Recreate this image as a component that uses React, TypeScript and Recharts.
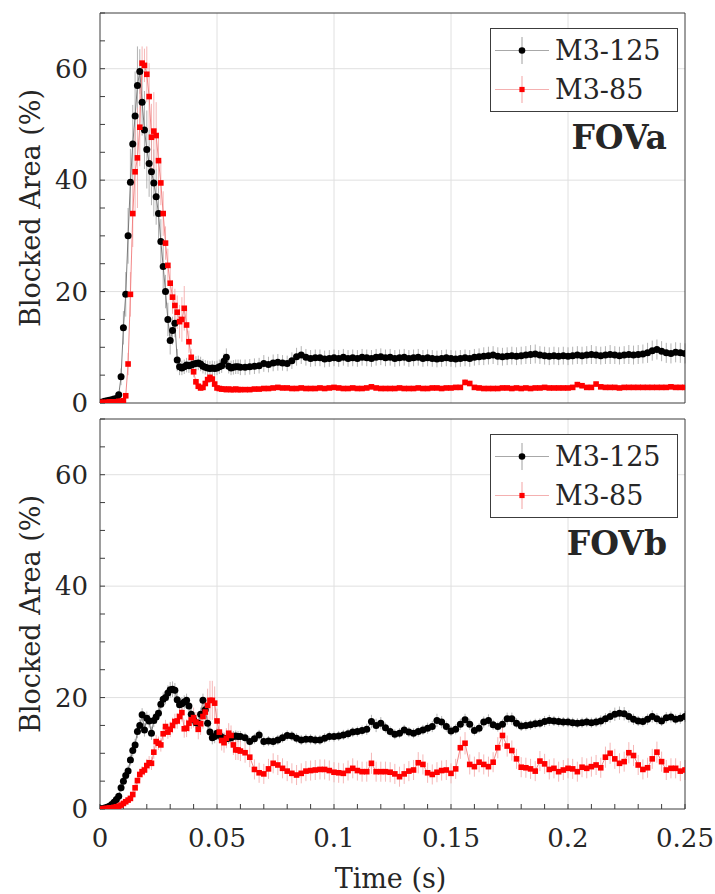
import React from "react"
import { LineChart, Line, XAxis, YAxis, ErrorBar, ReferenceLine, Legend } from "recharts"

const FONT = "'DejaVu Serif', serif"
const TEXT = "#262626"
const AXIS = "#3c3c3c"
const GRID = "#e0e0e0"

// time grid: 1 ms steps up to 60 ms, 2 ms after that
const T_FINE = Array.from({ length: 61 }, (_, i) => i / 1000)
const T_COARSE = Array.from({ length: 95 }, (_, i) => (62 + 2 * i) / 1000)
const TIME = [...T_FINE, ...T_COARSE]

const X_TICKS = [
  0, 0.01, 0.02, 0.03, 0.04, 0.05, 0.06, 0.07, 0.08, 0.09, 0.1, 0.11, 0.12, 0.13,
  0.14, 0.15, 0.16, 0.17, 0.18, 0.19, 0.2, 0.21, 0.22, 0.23, 0.24, 0.25,
]
const X_LABELS = [0, 0.05, 0.1, 0.15, 0.2, 0.25]
const Y_TICKS = [0, 5, 10, 15, 20, 25, 30, 35, 40, 45, 50, 55, 60, 65, 70]
const Y_LABELS = [0, 20, 40, 60]
const GRID_X = [0.05, 0.1, 0.15, 0.2]
const GRID_Y = [20, 40, 60]

// FOVa, M3-125
const A125_FINE = [
  0.1, 0.2, 0.3, 0.4, 0.5, 0.6, 0.7, 0.8, 1.5, 4.7,
  13.5, 19.5, 30, 39.6, 46.5, 51.5, 57, 59.5, 54, 49,
  45.5, 43, 41.5, 39.5, 37, 34, 29, 24.5, 20, 15,
  11.2, 13, 14.3, 7.7, 6.5, 6.3, 6.5, 6.8, 6.7, 6.8,
  7, 7.1, 7.2, 7, 6.6, 6.4, 6.3, 6.2, 6.3, 6.2,
  6.3, 6.5, 6.7, 7.5, 8.2, 6.6, 6.3, 6.4, 6.5, 6.5,
  6.4,
]
const A125_COARSE = [
  6.4, 6.5, 6.6, 6.7, 7.1, 6.9, 7.2, 7.3, 7.2, 7.1,
  7.6, 8.3, 8.6, 8.2, 8.0, 8.1, 8.1, 7.9, 8.0, 8.1,
  8.0, 8.2, 8.0, 8.1, 8.0, 8.2, 8.1, 8.0, 8.2, 8.3,
  8.1, 8.2, 8.0, 8.1, 8.2, 8.0, 8.1, 8.2, 8.0, 8.1,
  8.0, 7.9, 8.0, 8.1, 8.0, 7.9, 8.0, 8.1, 8.0, 8.2,
  8.3, 8.4, 8.5, 8.6, 8.4, 8.3, 8.4, 8.5, 8.4, 8.5,
  8.6, 8.7, 8.8, 8.6, 8.5, 8.4, 8.5, 8.4, 8.5, 8.4,
  8.5, 8.6, 8.5, 8.6, 8.7, 8.6, 8.5, 8.6, 8.7, 8.6,
  8.5, 8.6, 8.7, 8.6, 8.7, 8.8, 9.0, 9.4, 9.6, 9.3,
  9.0, 8.9, 9.1, 9.0, 8.9,
]
const A125_ERR_FINE = [
  0.1, 0.1, 0.1, 0.1, 0.1, 0.1, 0.1, 0.2, 0.5, 1.5,
  3, 4, 5, 6, 7, 8, 7, 4, 6, 7,
  7, 6, 6, 6, 5, 5, 4, 4, 3, 3,
  2.5, 2.5, 2.5, 2, 1.5, 1.3, 1.3, 1.3, 1.3, 1.3,
  1.3, 1.3, 1.3, 1.3, 1.3, 1.3, 1.3, 1.3, 1.3, 1.3,
  1.3, 1.3, 1.3, 1.4, 1.6, 1.3, 1.3, 1.3, 1.3, 1.3,
  1.4,
]
const A125_ERR_COARSE = [
  1.4, 1.4, 1.4, 1.4, 1.5, 1.4, 1.5, 1.5, 1.4, 1.4,
  1.5, 1.6, 1.6, 1.5, 1.5, 1.5, 1.5, 1.5, 1.5, 1.5,
  1.5, 1.5, 1.5, 1.5, 1.5, 1.5, 1.5, 1.5, 1.5, 1.5,
  1.5, 1.5, 1.5, 1.5, 1.5, 1.5, 1.5, 1.5, 1.5, 1.5,
  1.5, 1.5, 1.5, 1.5, 1.5, 1.5, 1.5, 1.5, 1.5, 1.5,
  1.5, 1.6, 1.6, 1.6, 1.6, 1.6, 1.6, 1.6, 1.6, 1.6,
  1.6, 1.7, 1.7, 1.6, 1.6, 1.6, 1.6, 1.6, 1.6, 1.6,
  1.6, 1.6, 1.6, 1.6, 1.7, 1.6, 1.6, 1.6, 1.7, 1.6,
  1.6, 1.6, 1.7, 1.7, 1.7, 1.7, 1.8, 1.8, 1.8, 1.8,
  1.8, 1.8, 1.8, 1.8, 1.8,
]

// FOVa, M3-85
const A85_FINE = [
  0.1, 0.1, 0.1, 0.1, 0.2, 0.2, 0.2, 0.2, 0.3, 0.3,
  0.4, 1.3, 7, 19.5, 34, 41.5, 44, 49.5, 61, 60.6,
  59, 55, 47.7, 48.8, 48, 43.5, 39.5, 34, 28.7, 24.7,
  21.5, 19, 17.5, 16.3, 14.6, 15, 17, 14, 11, 8.2,
  5.6, 3.8, 3.0, 2.7, 2.8, 3.5, 4.2, 4.6, 4.3, 3.4,
  2.7, 2.6, 2.5, 2.5, 2.4, 2.5, 2.4, 2.4, 2.5, 2.4,
  2.4,
]
const A85_COARSE = [
  2.4, 2.4, 2.5, 2.5, 2.6, 2.6, 2.7, 2.8, 2.7, 2.7,
  2.6, 2.6, 2.7, 2.6, 2.6, 2.6, 2.7, 2.6, 2.7, 2.8,
  2.7, 2.6, 2.6, 2.7, 2.6, 2.6, 2.7, 2.9, 2.7, 2.6,
  2.6, 2.6, 2.6, 2.7, 2.6, 2.6, 2.6, 2.7, 2.6, 2.6,
  2.7, 2.7, 2.6, 2.7, 2.7, 2.8, 2.8, 3.7, 3.5, 2.8,
  2.7, 2.6, 2.6, 2.6, 2.6, 2.7, 2.7, 2.6, 2.7, 2.6,
  2.7, 2.6, 2.7, 2.7, 2.8, 2.7, 2.7, 2.7, 2.7, 2.7,
  2.8, 3.3, 3.1, 2.8, 2.8, 3.4, 2.9, 2.8, 2.8, 2.8,
  2.7, 2.8, 2.8, 2.8, 2.8, 2.8, 2.8, 2.8, 2.8, 2.8,
  2.8, 2.9, 2.8, 2.8, 2.8,
]
const A85_ERR_FINE = [
  0.1, 0.1, 0.1, 0.1, 0.1, 0.1, 0.1, 0.1, 0.1, 0.1,
  0.1, 0.5, 2, 4, 6, 8, 9, 7, 3, 3,
  5, 6, 6, 7, 6, 5, 4, 4, 3, 3,
  3, 3, 3, 3, 3, 4, 4, 3, 2, 1.5,
  1, 0.6, 0.5, 0.5, 0.5, 0.6, 0.6, 0.6, 0.5, 0.5,
  0.4, 0.4, 0.4, 0.4, 0.4, 0.4, 0.4, 0.4, 0.4, 0.4,
  0.4,
]
const A85_ERR_COARSE = [
  0.4, 0.4, 0.4, 0.4, 0.4, 0.4, 0.4, 0.4, 0.4, 0.4,
  0.4, 0.4, 0.4, 0.4, 0.4, 0.4, 0.4, 0.4, 0.4, 0.4,
  0.4, 0.4, 0.4, 0.4, 0.4, 0.4, 0.4, 0.4, 0.4, 0.4,
  0.4, 0.4, 0.4, 0.4, 0.4, 0.4, 0.4, 0.4, 0.4, 0.4,
  0.4, 0.4, 0.4, 0.4, 0.4, 0.4, 0.4, 0.6, 0.5, 0.4,
  0.4, 0.4, 0.4, 0.4, 0.4, 0.4, 0.4, 0.4, 0.4, 0.4,
  0.4, 0.4, 0.4, 0.4, 0.4, 0.4, 0.4, 0.4, 0.4, 0.4,
  0.4, 0.5, 0.5, 0.4, 0.4, 0.5, 0.4, 0.4, 0.4, 0.4,
  0.4, 0.4, 0.4, 0.4, 0.4, 0.4, 0.4, 0.4, 0.4, 0.4,
  0.4, 0.4, 0.4, 0.4, 0.4,
]

// FOVb, M3-125
const B125_FINE = [
  0, 0.1, 0.2, 0.3, 0.5, 0.8, 1.2, 1.7, 2.3, 3.8,
  5, 6, 6.8, 8.8, 10.5, 11.5, 13.9, 15, 16.9, 14.2,
  16.3, 15.8, 13.6, 15.9, 16.5, 17.2, 18.8, 19.7, 20, 20.8,
  21.4, 21.5, 21.3, 19.6, 18.7, 18.9, 19.2, 19.5, 18.5, 17,
  16, 15.5, 15.4, 17, 19.5, 17.8, 15.4, 13.8, 12.8, 13,
  13.6, 13.3, 12.9, 12.7, 12.6, 12.7, 12.8, 13, 13.1, 13,
  13,
]
const B125_COARSE = [
  12.8, 12.1, 12.6, 13.3, 12.1, 12.2, 12.1, 12.4, 12.8, 13.2,
  13.1, 12.7, 12.4, 12.5, 12.5, 12.4, 12.4, 12.7, 13, 13,
  13.1, 13.3, 13.5, 13.8, 13.9, 14.1, 14.3, 15.7, 15, 15.4,
  14.6, 13.9, 13.4, 13.6, 14.2, 13.8, 13.6, 13.9, 14.2, 14.5,
  14.8, 15.9, 15.6, 14.8, 14, 14.3, 15.2, 16, 15.2, 14.1,
  14.5, 15.6, 15.9, 15.1, 14.8, 15.2, 16.2, 16.2, 15.4, 14.9,
  15, 15.1, 15.3, 15.4, 15.7, 15.9, 15.8, 15.7, 15.6, 15.6,
  15.5, 15.4, 15.5, 15.6, 15.5, 15.6, 15.8, 16.2, 16.6, 17,
  17.2, 17.1, 16.6, 16.1, 15.8, 15.7, 16.1, 16.6, 16.2, 15.8,
  16.4, 16.5, 16.1, 16.3, 16.6,
]
const B125_ERR_FINE = [
  0.1, 0.1, 0.1, 0.1, 0.2, 0.3, 0.4, 0.5, 0.6, 0.7,
  0.8, 0.9, 1, 1, 1.1, 1.1, 1.2, 1.2, 1.2, 1.2,
  1.2, 1.2, 1.2, 1.2, 1.2, 1.2, 1.2, 1.2, 1.2, 1.4,
  1.4, 1.4, 1.3, 1.2, 1.2, 1.2, 1.2, 1.2, 1.2, 1.2,
  1.2, 1.2, 1.2, 1.2, 1.2, 1.2, 1.2, 1.2, 1.2, 1.2,
  1, 1, 1, 1, 1, 1, 1, 1, 1, 1,
  1,
]
const B125_ERR_COARSE = [
  0.9, 0.9, 0.9, 0.9, 0.9, 0.9, 0.9, 0.9, 0.9, 0.9,
  0.9, 0.9, 0.9, 0.9, 0.9, 0.9, 0.9, 0.9, 0.9, 0.9,
  0.9, 0.9, 0.9, 0.9, 0.9, 0.9, 1.0, 1.2, 1.2, 1.1,
  0.9, 0.9, 0.9, 0.9, 0.9, 0.9, 0.9, 0.9, 0.9, 1.0,
  1.0, 1.2, 1.1, 0.9, 0.9, 0.9, 1.0, 1.1, 1.0, 0.9,
  0.9, 1.0, 1.1, 0.9, 0.9, 0.9, 1.1, 1.1, 0.9, 0.9,
  0.9, 0.9, 0.9, 0.9, 1.0, 1.0, 0.9, 0.9, 0.9, 0.9,
  0.9, 0.9, 0.9, 0.9, 0.9, 0.9, 1.0, 1.0, 1.1, 1.2,
  1.2, 1.2, 1.1, 1.0, 0.9, 0.9, 1.0, 1.1, 1.0, 0.9,
  1.0, 1.0, 0.9, 1.0, 1.0,
]

// FOVb, M3-85
const B85_FINE = [
  0, 0, 0.1, 0.1, 0.2, 0.2, 0.3, 0.4, 0.5, 0.7,
  1.0, 1.3, 1.6, 1.9, 2.6, 3.8, 5.1, 6.2, 6.7, 7.0,
  7.8, 8.3, 8.2, 10.2, 12.1, 11.8, 11.5, 13.5, 14.8, 13.8,
  14.3, 15, 15.7, 15.8, 16.6, 17.3, 14.4, 14.5, 15.4, 16,
  16.4, 15.6, 14.3, 15.3, 16.6, 17.4, 18.6, 19.5, 19.5, 19,
  15.8, 13.8, 12.3, 11.9, 12.7, 13.6, 13.2, 11.5, 10.6, 10.6,
  10.4,
]
const B85_COARSE = [
  10.1, 9.3, 7.1, 6.5, 6.3, 7.2, 8.2, 7.9, 7.3, 6.8,
  6.4, 6.1, 6.4, 6.8, 6.9, 7.0, 7.1, 7.1, 6.9, 6.6,
  6.5, 6.4, 6.9, 7.3, 6.9, 6.7, 6.7, 8.2, 6.7, 6.7,
  6.7, 6.6, 6.3, 5.8, 6.3, 6.8, 7.0, 8.3, 8.0, 6.5,
  6.2, 6.6, 6.9, 7.0, 6.4, 7.2, 11.0, 11.8, 8.0, 7.6,
  8.4, 8.0, 7.6, 8.4, 11.0, 13.2, 11.3, 10.5, 9.0, 7.5,
  7.4, 7.2, 6.8, 8.6, 8.1, 7.1, 7.3, 6.7, 7.0, 7.3,
  7.2, 6.7, 7.5, 7.3, 7.6, 7.9, 7.4, 9.3, 10.0, 9.0,
  8.2, 8.5, 10.1, 9.6, 7.9, 7.1, 7.4, 9.0, 10.2, 8.5,
  7.0, 7.3, 7.3, 6.8, 7.0,
]
const B85_ERR_FINE = [
  0.1, 0.1, 0.1, 0.1, 0.1, 0.1, 0.1, 0.1, 0.1, 0.1,
  0.3, 0.4, 0.5, 0.6, 0.7, 0.8, 0.9, 1, 1, 1,
  1.2, 1.2, 1.2, 1.2, 1.2, 1.2, 1.2, 1.2, 1.2, 1.2,
  1.4, 1.4, 1.4, 1.4, 1.4, 1.6, 1.6, 1.6, 1.6, 1.6,
  1.8, 1.8, 1.8, 2, 2.2, 2.5, 3, 3.5, 3.5, 3,
  2.2, 2, 1.8, 1.8, 1.8, 1.8, 1.8, 1.8, 1.8, 1.8,
  1.8,
]
const B85_ERR_COARSE = [
  1.8, 1.8, 1.8, 1.8, 1.8, 1.8, 1.8, 1.8, 1.8, 1.8,
  1.8, 1.8, 1.8, 1.8, 1.8, 1.8, 1.8, 1.8, 1.8, 1.8,
  1.8, 1.8, 1.8, 1.8, 1.8, 1.8, 1.8, 1.9, 1.8, 1.8,
  1.8, 1.8, 1.8, 1.8, 1.8, 1.8, 1.8, 1.9, 1.8, 1.8,
  1.8, 1.8, 1.8, 1.8, 1.8, 1.8, 2.0, 2.0, 1.8, 1.8,
  1.8, 1.8, 1.8, 1.8, 1.9, 2.0, 1.9, 1.8, 1.8, 1.8,
  1.8, 1.8, 1.8, 1.8, 1.8, 1.8, 1.8, 1.8, 1.8, 1.8,
  1.8, 1.8, 1.8, 1.8, 1.8, 1.8, 1.8, 1.9, 1.9, 1.8,
  1.8, 1.8, 1.9, 1.9, 1.8, 1.8, 1.8, 1.8, 1.9, 1.8,
  1.8, 1.8, 1.8, 1.8, 1.8,
]

const SERIES = [
  { key: "m125", name: "M3-125", line: "#6e6e6e", legendLine: "#a8a8a8", err: "#a0a0a0", marker: "#000000", shape: "circle" },
  { key: "m85", name: "M3-85", line: "#f07a7a", legendLine: "#f4b0b0", err: "#f3a3a3", marker: "#ff0000", shape: "square" },
]

function buildRows(b: number[], r: number[], be: number[], re: number[]) {
  return TIME.map((t, i) => ({ t, m125: b[i], m85: r[i], m125Err: be[i], m85Err: re[i] }))
}

const ROWS_A = buildRows(
  [...A125_FINE, ...A125_COARSE],
  [...A85_FINE, ...A85_COARSE],
  [...A125_ERR_FINE, ...A125_ERR_COARSE],
  [...A85_ERR_FINE, ...A85_ERR_COARSE]
)
const ROWS_B = buildRows(
  [...B125_FINE, ...B125_COARSE],
  [...B85_FINE, ...B85_COARSE],
  [...B125_ERR_FINE, ...B125_ERR_COARSE],
  [...B85_ERR_FINE, ...B85_ERR_COARSE]
)

const fmtX = (v: number) => (X_LABELS.some((l) => Math.abs(l - v) < 1e-9) ? String(v) : "")
const fmtY = (v: number) => (Y_LABELS.includes(v) ? String(v) : "")

const Square = (p: any) => {
  if (p.cx == null || p.cy == null) return <g key={`sq-${p.index}`} />
  return <rect key={`sq-${p.index}`} x={p.cx - 2.8} y={p.cy - 2.8} width={5.6} height={5.6} fill="#ff0000" />
}

function legendContent(fov: string) {
  return () => (
    <div style={{ fontFamily: FONT, color: TEXT }}>
      <div
        style={{
          width: 188,
          height: 84,
          boxSizing: "border-box",
          border: `1px solid ${AXIS}`,
          background: "#fff",
          paddingTop: 2,
        }}
      >
        {SERIES.map((s) => (
          <div key={s.key} style={{ display: "flex", alignItems: "center", height: 39 }}>
            <svg width={64} height={39} style={{ display: "block" }}>
              <line x1={4} x2={58} y1={19.5} y2={19.5} stroke={s.legendLine} strokeWidth={1} />
              <line x1={31} x2={31} y1={6} y2={33} stroke={s.err} strokeWidth={1} />
              {s.shape === "circle" ? (
                <circle cx={31} cy={19.5} r={3.3} fill={s.marker} />
              ) : (
                <rect x={28.4} y={16.9} width={5.2} height={5.2} fill={s.marker} />
              )}
            </svg>
            <span style={{ fontSize: 27, lineHeight: "39px", whiteSpace: "nowrap" }}>{s.name}</span>
          </div>
        ))}
      </div>
      <div style={{ textAlign: "right", paddingRight: 11, marginTop: 6, fontSize: 33, fontWeight: "bold", lineHeight: "40px" }}>
        {fov}
      </div>
    </div>
  )
}

const tickStyle = { fontSize: 26, fill: TEXT, fontFamily: FONT }

function Panel({ rows, fov, showX, height }: { rows: any[]; fov: string; showX: boolean; height: number }) {
  return (
    <LineChart width={715} height={height} data={rows} margin={{ top: 12, right: 29, bottom: 0, left: 0 }}>
      {GRID_X.map((x) => (
        <ReferenceLine key={`gx${x}`} x={x} stroke={GRID} strokeWidth={1} />
      ))}
      {GRID_Y.map((y) => (
        <ReferenceLine key={`gy${y}`} y={y} stroke={GRID} strokeWidth={1} />
      ))}
      <XAxis
        dataKey="t"
        type="number"
        domain={[0, 0.25]}
        allowDataOverflow
        ticks={X_TICKS}
        interval={0}
        tickFormatter={fmtX}
        tick={showX ? tickStyle : false}
        tickSize={-5}
        tickMargin={25}
        height={showX ? 85 : 17}
        axisLine={{ stroke: AXIS }}
        tickLine={{ stroke: AXIS }}
        label={
          showX
            ? { value: "Time (s)", position: "center", dy: 27, dx: -2, fontSize: 27, fill: TEXT, fontFamily: FONT }
            : undefined
        }
      />
      <XAxis
        xAxisId="top"
        orientation="top"
        type="number"
        domain={[0, 0.25]}
        allowDataOverflow
        ticks={X_TICKS}
        interval={0}
        tick={false}
        tickSize={-4}
        height={1}
        axisLine={{ stroke: AXIS }}
        tickLine={{ stroke: AXIS }}
      />
      <YAxis
        type="number"
        domain={[0, 70]}
        allowDataOverflow
        ticks={Y_TICKS}
        interval={0}
        tickFormatter={fmtY}
        tick={tickStyle}
        tickSize={-5}
        tickMargin={17}
        width={100}
        axisLine={{ stroke: AXIS }}
        tickLine={{ stroke: AXIS }}
        label={{
          value: "Blocked Area (%)",
          angle: -90,
          position: "center",
          dx: -20,
          fontSize: 27,
          fill: TEXT,
          fontFamily: FONT,
        }}
      />
      <YAxis
        yAxisId="right"
        orientation="right"
        type="number"
        domain={[0, 70]}
        allowDataOverflow
        ticks={Y_TICKS}
        interval={0}
        tick={false}
        tickSize={-4}
        width={1}
        axisLine={{ stroke: AXIS }}
        tickLine={{ stroke: AXIS }}
      />
      <Legend
        layout="vertical"
        align="center"
        verticalAlign="middle"
        content={legendContent(fov)}
        wrapperStyle={{ left: 490, top: 28, width: 188, height: "auto" }}
      />
      <Line
        dataKey="m125"
        name="M3-125"
        type="linear"
        stroke={SERIES[0].line}
        strokeWidth={0.9}
        dot={{ r: 3.5, fill: "#000", stroke: "none" }}
        activeDot={false}
        isAnimationActive={false}
      >
        <ErrorBar dataKey="m125Err" width={0} stroke={SERIES[0].err} strokeWidth={0.8} direction="y" />
      </Line>
      <Line
        dataKey="m85"
        name="M3-85"
        type="linear"
        stroke={SERIES[1].line}
        strokeWidth={0.9}
        dot={Square}
        activeDot={false}
        isAnimationActive={false}
      >
        <ErrorBar dataKey="m85Err" width={0} stroke={SERIES[1].err} strokeWidth={0.8} direction="y" />
      </Line>
    </LineChart>
  )
}

export default function App() {
  return (
    <div style={{ position: "absolute", left: 0, top: 0, width: 715, height: 894, background: "#fff", fontFamily: FONT }}>
      <div style={{ position: "absolute", left: 0, top: 0 }}>
        <Panel rows={ROWS_A} fov="FOVa" showX={false} height={420} />
      </div>
      <div style={{ position: "absolute", left: 0, top: 406 }}>
        <Panel rows={ROWS_B} fov="FOVb" showX height={488} />
      </div>
    </div>
  )
}
